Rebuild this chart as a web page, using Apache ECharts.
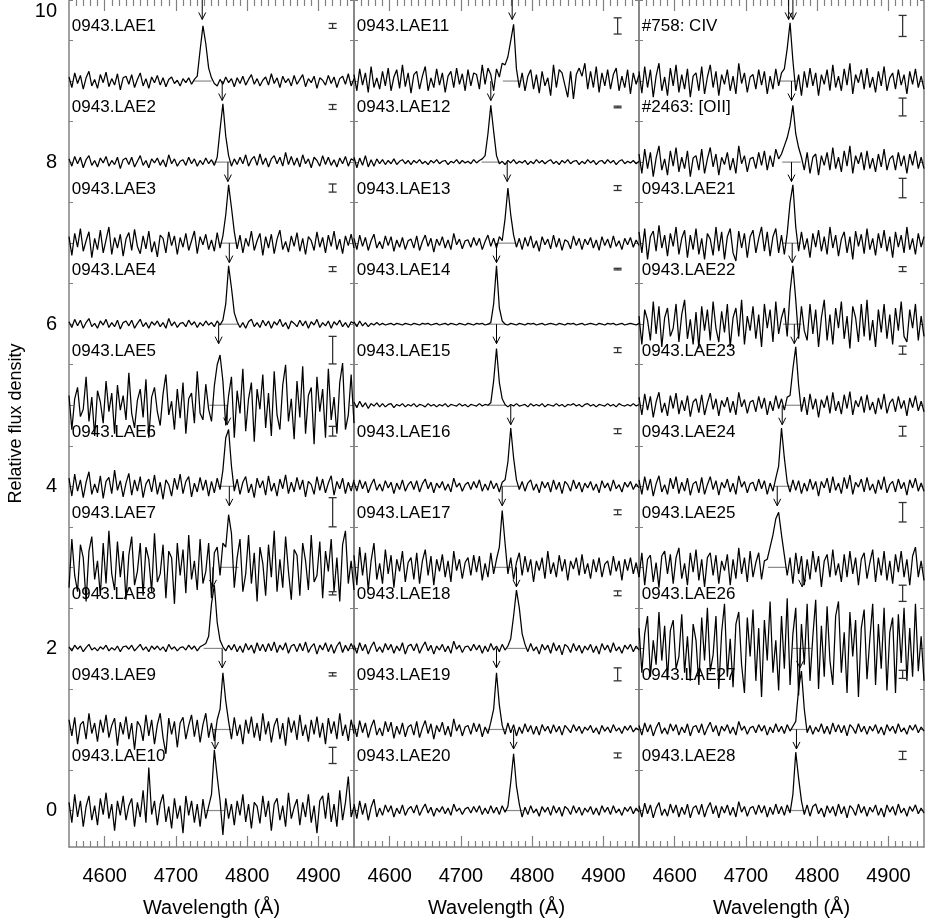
<!DOCTYPE html>
<html><head><meta charset="utf-8">
<script src="https://cdn.jsdelivr.net/npm/echarts@6/dist/echarts.min.js"></script>
<style>html,body{margin:0;padding:0;background:#fff}#c{width:926px;height:919px}</style>
</head><body><div id="c"></div>
<script>
// ---- sampling of every spectrum (Å) ----
const wlStart = 4550, wlStep = 4;
const xTickLabels = [4600, 4700, 4800, 4900];
const yTickLabels = [0, 2, 4, 6, 8, 10];

// ---- spectrum names per panel (top to bottom; offsets 9 ... 0) ----
const namesLeft = ['0943.LAE1','0943.LAE2','0943.LAE3','0943.LAE4','0943.LAE5','0943.LAE6','0943.LAE7','0943.LAE8','0943.LAE9','0943.LAE10'];
const namesMiddle = ['0943.LAE11','0943.LAE12','0943.LAE13','0943.LAE14','0943.LAE15','0943.LAE16','0943.LAE17','0943.LAE18','0943.LAE19','0943.LAE20'];
const namesRight = ['#758: CIV','#2463: [OII]','0943.LAE21','0943.LAE22','0943.LAE23','0943.LAE24','0943.LAE25','0943.LAE26','0943.LAE27','0943.LAE28'];

// ---- line (arrow) wavelengths ----
const arrowsLeft = [4737,4765,4773,4775,4760,4772,4775,4752,4765,4755];
const arrowsMiddle = [4772,4742,4765,4750,4750,4770,4758,4778,4750,4774];
const arrowsRight = [4760,4764,4764,4765,4768,4751,4744,4779,4776,4771];
const extraArrowRight = { wl: 4766, row: 0 };

// ---- error bar half heights ----
const errLeft = [0.03,0.03,0.05,0.03,0.17,0.06,0.18,0.02,0.02,0.10];
const errMiddle = [0.10,0.01,0.03,0.01,0.03,0.03,0.03,0.03,0.08,0.03];
const errRight = [0.13,0.11,0.12,0.03,0.05,0.06,0.12,0.10,0.05,0.05];

// ---- fluxes (relative, in hundredths, above each offset) ----
const lae1 = [5,-8,10,-3,7,-10,4,12,-6,2, -9,8,-2,11,-7,3,-5,9,-11,4, 6,-4,8,-8,2,10,-6,3,-9,5, -2,7,-5,4,-7,2,5,-3,1,-6, 3,-2,4,-4,2,6,38,68,46,16, 4,-3,-6,2,-4,5,-2,3,-7,4, -3,6,-5,2,8,-4,3,-6,1,5, -5,9,-3,4,-8,6,-2,3,-6,7, -4,2,8,-7,3,-2,6,-9,4,1, -5,7,-3,5,-8,3,6,-4,9,-6, 3];
const lae2 = [4,-5,7,-2,6,-7,3,8,-4,2, -6,5,-1,7,-5,2,-3,6,-8,3, 5,-3,6,-6,1,8,-4,2,-7,4, -1,5,-4,3,-6,9,-2,4,-5,1, 3,-4,6,-2,4,-5,2,-3,5,-2, 3,-4,6,40,72,32,8,-5,4,-3, 6,-2,9,-5,3,7,-4,10,-3,5, -6,4,8,-2,6,-5,12,-3,7,-4, 5,-6,9,-2,4,-7,6,2,-5,8, -3,6,-4,3,-6,5,-2,7,-5,4, 2];
const lae3 = [8,-15,12,-5,18,-10,3,14,-18,6, -8,16,-12,4,20,-14,7,-6,11,-16, 5,13,-9,17,-4,-13,9,-7,15,-11, 2,-17,10,6,-12,14,-3,9,-14,7, -5,12,-9,3,15,-13,8,-2,11,-8, 4,-10,13,-6,9,35,72,44,14,-7, 10,-12,6,-4,15,-9,3,12,-15,8, -6,11,-13,5,16,-8,2,-11,9,-4, 13,-10,6,-14,8,3,-9,14,-5,7, -12,10,-4,15,-8,5,-13,9,-3,11, -6];
const lae4 = [3,-4,6,-2,5,-5,2,7,-3,1, -5,4,-1,6,-4,2,-3,5,-6,2, 4,-2,5,-5,1,6,-3,2,-5,3, -1,4,-3,2,-5,7,-2,3,-4,1, 2,-3,5,-1,3,-4,2,-2,4,-1, 2,-3,4,-1,5,25,72,45,14,3, -4,2,-5,3,6,-3,2,-4,5,-2, 4,-5,3,-1,6,-3,2,-6,4,1, -3,5,-2,4,-5,3,-1,6,-4,2, -2,4,-5,3,-1,5,-3,2,-4,3, 1];
const lae5 = [12,-30,8,22,-14,-5,35,-20,10,-38, 18,4,-22,30,-8,15,-35,25,-6,12, -18,40,-10,-28,6,20,-15,32,-40,10, 22,-8,-25,14,38,-12,5,-30,20,-16, 28,-35,8,15,-22,42,-10,-18,26,-5, -20,24,50,62,30,-25,12,35,-40,18, -10,45,-32,8,28,-45,20,-5,38,-28, 15,-38,42,-12,-30,25,50,-20,8,-42, 30,-15,48,-35,12,22,-48,35,-8,20, -40,45,-18,10,-35,28,52,-30,-12,38, -22];
const lae6 = [10,-12,15,-6,8,-14,5,18,-10,3, -8,13,-15,6,11,-9,20,-5,7,-13, 4,16,-11,8,-6,12,-14,3,9,-7, 14,-10,5,-16,8,2,-12,10,-4,15, -9,6,12,-13,4,-7,11,-5,8,-12, 6,-8,10,-4,20,60,70,25,-6,9, -10,5,12,-8,3,-14,10,-2,7,-11, 13,-6,4,-12,9,-3,14,-9,5,-7, 11,-4,8,-13,6,2,-10,12,-5,9, -8,4,13,-11,6,-3,10,-9,5,-6, 8];
const lae7 = [-25,35,-10,-30,28,12,-42,20,38,-15, 8,-35,30,-20,45,-8,-28,32,-12,20, -40,15,38,-22,-5,30,-35,25,10,-30, 42,-18,-8,28,-38,20,12,-45,30,-10, 22,-32,40,-15,8,-28,35,-20,-5,30, -38,18,25,-10,30,25,65,42,-25,12, 35,-30,-8,40,-20,18,-42,25,5,-35, 28,-12,45,-30,10,-25,38,-5,-40,22, 15,-35,30,8,-28,40,-18,-10,32,-38, 20,-5,35,-30,12,-42,28,45,-20,8, -28];
const lae8 = [2,-3,4,-1,3,-4,1,5,-2,1, -3,2,-1,4,-3,1,-2,3,-4,2, 3,-1,4,-3,1,5,-2,2,-4,3, -1,3,-2,2,-4,5,-1,2,-3,1, 2,-2,4,-1,3,-3,2,4,6,15, 55,78,32,10,2,-3,4,-2,5,-4, 3,-5,6,-2,4,-6,7,-3,5,-4, 6,-3,8,-5,4,-2,7,-6,3,5, -4,6,-3,8,-5,2,6,-7,4,-2, 7,-4,5,-6,3,8,-5,4,-3,6, -2];
const lae9 = [12,-8,15,-18,6,10,-12,20,-5,8, -15,12,-4,18,-10,5,14,-20,9,-6, 16,-12,8,-25,10,4,-14,18,-8,12, -18,6,20,-10,-30,14,-6,10,-22,8, 15,-12,5,18,-9,12,-16,6,20,-10, 8,-14,12,25,70,35,10,-12,15,-8, 6,-18,12,-5,16,-10,8,-14,20,-6, 10,-16,5,14,-12,8,-20,15,-4,11, -13,18,-8,6,-15,12,-6,16,-10,8, -18,14,-5,10,-12,20,-8,6,-14,12, -5];
const lae10 = [10,-15,20,-8,12,-20,5,18,-12,6, -18,15,-5,22,-10,8,-25,12,-6,18, -12,6,15,-20,10,-8,25,-15,53,-5, 12,-18,8,20,-14,5,-22,15,-10,6, -28,18,-6,12,-15,8,-20,14,-10,5, 20,75,42,12,-30,15,-10,8,-18,12, -6,20,-14,8,-22,10,5,-16,18,-8, 12,-25,8,15,-12,6,-20,22,-10,4, 14,-18,10,-8,20,-15,6,-28,12,18, -10,22,-14,8,-20,25,-12,10,42,-8, 5];
const lae11 = [8,-12,15,-5,10,-14,18,-8,4,-10, 12,-6,16,-12,5,14,-9,20,-7,10, -15,8,12,-10,6,18,-12,4,-8,15, -5,10,-14,6,12,-8,16,-4,9,-12, 14,-6,10,8,-10,20,-4,16,8,-12, 15,5,22,20,30,50,70,15,-8,10, -12,6,14,-10,8,-15,12,-6,4,-18, 20,-8,14,10,-5,-20,12,-22,8,16, 6,22,-10,12,-8,18,-14,10,-6,14, -10,8,16,-12,6,-8,14,-16,10,-4, 8];
const lae12 = [6,-7,5,-4,8,-6,3,-5,4,-2, 3,-3,2,-2,4,-3,1,3,-2,2, -3,2,-1,3,-2,1,-3,2,-1,3, -2,1,2,-3,1,-1,3,-2,2,-1, 1,-2,3,-1,2,4,8,35,70,38, 8,-2,1,-3,2,-1,3,-2,1,-1, 2,-3,1,-2,3,-1,2,-2,1,3, -2,1,-3,2,-1,3,-2,1,2,-3, 1,-2,3,-1,2,-3,1,2,-2,3, -1,2,-3,1,3,-2,1,-1,2,-2, 1];
const lae13 = [6,-8,10,-4,7,-9,3,11,-6,2, -7,9,-3,8,-10,4,-5,7,-8,3, 5,-6,9,-9,2,10,-4,6,-11,5, -3,8,-6,4,-8,12,-2,5,-7,3, 4,-5,7,-3,6,-8,2,10,-4,6, -6,8,3,30,68,35,10,-5,6,-8, 7,-4,9,-6,3,-10,8,-2,5,-7, 10,-5,6,-9,4,2,-7,9,-3,6, -8,5,-2,7,-6,4,-9,8,-3,5, -6,9,-4,3,-8,6,-2,7,-5,4, -3];
const lae14 = [3,-3,4,-2,2,-3,1,-1,2,-1, 1,-1,0,1,-1,1,0,-1,1,0, -1,1,0,-1,1,0,1,-1,0,1, -1,0,1,-1,1,0,-1,1,0,-1, 1,0,-1,1,0,1,-1,0,2,25, 72,20,4,0,-1,1,0,-1,1,0, -1,1,0,1,-1,0,1,-1,0,1, 0,-1,1,0,-1,1,0,1,-1,0, 1,-1,0,1,0,-1,1,0,-1,1, 0,1,-1,0,1,-1,0,1,0,-1, 1];
const lae15 = [4,-3,5,-2,3,-4,2,-1,3,-2, 2,-2,1,2,-3,1,-1,2,-2,1, -1,2,-2,1,0,-2,2,-1,1,-2, 1,-1,2,-2,1,0,-1,2,-1,1, -2,1,0,-1,2,-1,1,0,3,30, 70,28,8,1,-2,1,-1,2,-1,0, 1,-2,2,-1,1,-1,2,-2,1,0, -1,2,-1,1,-2,1,0,2,-1,1, -2,1,2,-1,1,-2,1,0,-1,2, -1,1,-2,2,0,-1,1,-1,2,-1, 1];
const lae16 = [5,-6,8,-3,6,-8,2,9,-5,3, -6,7,-2,5,-9,4,-4,8,-6,2, 6,-4,7,-7,3,9,-3,5,-8,4, -2,6,-5,3,-7,10,-1,4,-6,2, 5,-4,6,-2,8,-6,3,-5,7,-3, 4,-7,5,8,30,72,35,8,-4,6, -6,4,8,-5,3,-8,6,-2,5,-7, 8,-4,5,-9,6,2,-6,8,-3,5, -7,4,-2,6,-5,3,-8,7,-2,4, -6,8,-3,2,-7,5,-1,6,-4,3, -2];
const lae17 = [15,-22,25,-10,18,-28,8,30,-15,5, -20,22,-8,15,-25,10,-5,20,-18,6, 12,-15,18,-20,8,22,-10,14,-22,10, -5,16,-12,8,-18,20,-4,10,-14,6, 12,-10,15,-6,14,-16,5,-12,18,-8, 10,25,70,30,-8,12,-15,6,18,-10, 14,-6,10,-18,8,-4,12,-14,20,-8, 6,-12,15,-5,10,-16,8,-2,12,-10, 16,-8,5,-14,10,-6,12,-12,4,8, -10,14,-5,8,-16,10,-4,12,-8,6, -12];
const lae18 = [4,-6,7,-3,5,-7,2,8,-4,2, -5,6,-2,5,-6,3,-3,7,-7,3, 5,-3,6,-6,2,8,-3,4,-7,3, -2,5,-4,3,-6,9,-1,4,-5,2, 3,-3,5,-2,4,-6,3,-4,6,-2, 3,-4,5,-2,3,12,40,72,50,18, 5,-4,6,-3,2,-7,5,-2,4,-6, 7,-3,4,-8,5,2,-5,6,-3,4, -6,3,-2,5,-5,3,-7,6,-2,4, -5,7,-3,2,-6,4,-1,5,-4,3, -2];
const lae19 = [6,-9,11,-4,8,-10,3,12,-7,2, -8,10,-3,9,-11,4,-6,8,-9,3, 6,-7,10,-10,2,11,-5,7,-12,5, -3,9,-7,4,-9,13,-2,6,-8,3, 5,-6,8,-3,7,-9,3,-5,9,25, 70,30,5,-6,8,-4,6,-8,3,-5, 7,-3,5,-6,4,-7,6,-2,4,-5, 6,-3,4,-7,5,1,-4,6,-2,4, -5,3,-1,5,-4,2,-6,5,-2,3, -4,6,-2,2,-5,4,-1,5,-3,2, -1];
const lae20 = [8,-10,12,-5,9,-12,4,14,-8,3, -6,7,-2,6,-8,3,-4,7,-6,2, 5,-3,7,-6,2,8,-3,4,-7,3, -2,5,-4,3,-6,8,-1,3,-5,2, 4,-3,5,-2,6,-5,3,-4,6,-3, 4,-5,6,-2,5,35,70,30,8,-8, 4,-5,6,-3,2,-7,5,-2,4,-6, 6,-3,4,-7,5,2,-5,6,-3,4, -6,3,-2,5,-5,3,-6,6,-2,4, -5,6,-3,2,-6,4,-1,5,-4,3, -2];
const civ758 = [12,-15,18,-8,14,-20,6,22,-12,5, -18,16,-6,20,-14,8,-10,15,-20,6, 10,-12,18,-16,5,20,-8,12,-18,8, -4,14,-12,6,-16,22,-3,10,-14,5, 8,-10,14,-5,12,-16,6,-10,15,-6, 10,15,40,72,25,-12,8,-18,12,-8, 16,-6,10,-18,8,-4,14,-12,20,-8, 6,-12,15,-5,22,-16,8,-2,14,-10, 16,-8,5,-14,12,-6,18,-12,4,10, -10,14,-5,8,-16,12,-4,15,-8,6, -10];
const oii2463 = [10,-14,16,-8,12,-18,5,20,-10,4, -16,14,-5,18,-12,6,-8,14,-18,5, 8,-10,16,-14,4,18,-6,10,-16,6, -3,12,-10,5,-14,20,-2,8,-12,4, 6,-8,12,-4,14,-10,8,-6,16,4, 10,20,30,45,70,35,18,6,-10,12, -14,6,10,-16,8,-4,12,-10,18,-8, 6,-12,14,-5,20,-14,8,-2,12,-10, 14,-8,5,-12,10,-6,16,-10,4,8, -10,12,-5,8,-14,10,-4,14,-8,6, -8];
const lae21 = [14,-12,18,-20,8,15,-10,22,-6,10, -16,12,-4,20,-14,6,16,-18,10,-8, 18,-14,6,-20,12,5,-15,20,-10,14, -20,8,18,-12,-22,15,-6,12,-18,8, 16,-12,6,20,-10,14,-16,8,18,-12, 10,-14,12,50,72,20,-10,14,-8,6, -18,12,-5,16,-10,8,-14,20,-6,10, -16,5,14,-12,8,-20,15,-4,11,-13, 18,-8,6,-15,12,-6,16,-10,8,-18, 14,-5,10,-12,20,-8,6,-14,12,-5, 8];
const lae22 = [10,-25,18,5,-20,28,-12,22,-28,8, 20,-15,-5,25,-22,12,30,-18,6,-25, 15,-30,22,-8,18,-20,28,-5,-22,16, -10,25,-28,8,20,-15,30,-25,10,-8, 22,-18,12,-28,25,-5,18,-22,28,-12, 8,20,-15,40,72,30,-18,22,-8,-20, 25,-12,18,-28,8,30,-20,12,-25,20, -5,28,-18,10,-30,22,8,-22,25,-15, 30,-20,5,-28,18,-10,25,-18,12,-25, 20,-8,28,-15,-22,18,-5,25,-20,10, -15];
const lae23 = [10,-12,14,-6,11,-15,4,16,-9,3, -13,12,-4,15,-11,6,-7,12,-14,4, 8,-9,13,-12,3,15,-5,8,-13,6, -2,10,-9,5,-12,16,-2,7,-10,4, 6,-8,11,-4,9,-12,5,-7,12,-4, 8,-6,10,12,45,72,25,-8,10,-12, 14,-5,8,-15,7,-3,12,-10,16,-7, 5,-11,13,-4,17,-12,6,-2,11,-9, 13,-6,4,-11,9,-5,14,-10,3,8, -8,11,-4,6,-13,9,-3,12,-7,5, -8];
const lae24 = [8,-10,12,-5,9,-12,3,13,-7,2, -10,10,-3,12,-9,5,-6,10,-11,3, 6,-8,11,-10,2,12,-4,7,-11,5, -2,9,-7,4,-10,13,-1,6,-8,3, 5,-6,9,-3,7,-10,4,-6,10,25, 72,35,5,-7,8,-5,7,-9,4,-6, 9,-4,6,-12,6,-2,10,-8,12,-5, 4,-9,11,-3,14,-10,5,-1,9,-7, 11,-5,3,-9,8,-4,12,-8,2,6, -7,9,-3,5,-11,8,-2,10,-6,4, -6];
const lae25 = [-12,18,-22,10,15,-18,6,-25,14,20, -8,16,-20,12,24,-14,5,-22,18,-6, 22,-16,10,-24,12,18,-10,15,-20,8, -4,16,-22,10,-14,24,-8,12,-18,20, -12,6,18,-15,8,10,25,40,60,68, 40,15,-10,12,-20,18,-8,14,-22,10, -15,20,-6,14,-24,8,16,-12,22,-10, 5,-18,16,-12,20,-8,12,-22,10,18, -14,6,22,-18,12,-10,20,-16,8,-20, 16,-6,20,-12,10,-22,14,25,-12,8, -16];
const lae26 = [25,-30,18,40,-35,10,-20,45,-15,28, -38,22,35,-25,-10,42,-30,15,-40,30, 10,-45,38,-15,50,-28,-8,40,-50,20, 55,-35,12,-48,30,45,-20,-55,38,-10, 48,-40,25,-60,35,-15,58,-30,10,-52, 40,-25,62,-45,18,50,-58,30,-20,55, -40,15,60,-50,28,-35,52,-15,-45,40, 58,-30,20,-55,45,-10,35,-60,25,48, -38,12,55,-45,30,-25,50,-52,20,38, -55,42,-18,50,-40,25,-35,55,-28,15, -40];
const lae27 = [5,-7,8,-3,6,-8,2,9,-5,2, -6,7,-2,6,-7,3,-4,7,-8,3, 5,-4,7,-7,2,9,-3,5,-8,4, -2,6,-5,3,-7,10,-1,4,-6,2, 4,-4,6,-2,5,-7,3,-4,7,-3, 4,-5,6,-2,4,10,50,72,25,-4, 5,-6,3,-3,7,-5,4,-6,8,-3, 6,-4,5,-8,6,2,-5,7,-3,4, -6,4,-2,6,-5,3,-7,6,-2,4, -5,7,-3,2,-6,5,-1,6,-4,3, -2];
const lae28 = [6,-8,9,-4,7,-9,3,10,-6,2, -7,8,-3,7,-8,4,-5,8,-9,3, 6,-5,8,-8,3,10,-4,6,-9,5, -3,7,-6,4,-8,11,-2,5,-7,3, 5,-5,7,-3,6,-8,4,-5,8,-4, 5,-6,7,-3,20,72,40,12,-5,7, -7,5,8,-4,3,-8,6,-3,5,-7, 8,-4,5,-9,6,2,-6,8,-3,5, -7,4,-2,7,-6,3,-8,7,-2,5, -6,8,-3,3,-7,5,-1,7,-4,3, -3];

const fluxLeft = [lae1,lae2,lae3,lae4,lae5,lae6,lae7,lae8,lae9,lae10];
const fluxMiddle = [lae11,lae12,lae13,lae14,lae15,lae16,lae17,lae18,lae19,lae20];
const fluxRight = [civ758,oii2463,lae21,lae22,lae23,lae24,lae25,lae26,lae27,lae28];

// ---------------- chart ----------------
const panels = [
  { names: namesLeft, arrows: arrowsLeft, err: errLeft, flux: fluxLeft },
  { names: namesMiddle, arrows: arrowsMiddle, err: errMiddle, flux: fluxMiddle },
  { names: namesRight, arrows: arrowsRight, err: errRight, flux: fluxRight }
];
const FONT = '"Liberation Sans", Arial, Helvetica, sans-serif';
const AX = '#808080';
const XMIN = 4550, XMAX = 4950, YMIN = -0.45, YMAX = 10;
const gridLefts = [69, 354, 639];
const minorX = []; for (let v = 4560; v < 4950; v += 10) if (v % 100 !== 0) minorX.push(v);
const halfY = []; for (let v = 0; v <= 10; v += 0.5) halfY.push(v);

const grid = [], xAxis = [], yAxis = [], series = [];
panels.forEach((p, g) => {
  grid.push({ left: gridLefts[g], top: 0, width: 285, height: 847, containLabel: false, outerBoundsMode: 'none' });
  const base = { type: 'value', gridIndex: g, min: XMIN, max: XMAX, splitLine: { show: false } };
  xAxis.push(Object.assign({}, base, {
    position: 'bottom',
    axisLine: { onZero: false, lineStyle: { color: AX, width: 1.5 } },
    axisTick: { inside: true, length: 11, customValues: xTickLabels, lineStyle: { color: AX, width: 1.2 } },
    axisLabel: { customValues: xTickLabels, fontSize: 20, color: '#000', fontFamily: FONT, margin: 19, formatter: v => String(v) },
    name: 'Wavelength (Å)', nameLocation: 'middle', nameGap: 51,
    nameTextStyle: { fontSize: 20, color: '#000', fontFamily: FONT }
  }));
  xAxis.push(Object.assign({}, base, {
    position: 'bottom', axisLine: { show: false, onZero: false },
    axisTick: { inside: true, length: 6, customValues: minorX, lineStyle: { color: AX, width: 1.2 } },
    axisLabel: { show: false }
  }));
  xAxis.push(Object.assign({}, base, {
    position: 'top', axisLine: { show: false, onZero: false },
    axisTick: { inside: true, length: 11, customValues: xTickLabels, lineStyle: { color: AX, width: 1.2 } },
    axisLabel: { show: false }
  }));
  xAxis.push(Object.assign({}, base, {
    position: 'top', axisLine: { show: false, onZero: false },
    axisTick: { inside: true, length: 6, customValues: minorX, lineStyle: { color: AX, width: 1.2 } },
    axisLabel: { show: false }
  }));
  const ybase = { type: 'value', gridIndex: g, min: YMIN, max: YMAX, splitLine: { show: false } };
  yAxis.push(Object.assign({}, ybase, {
    position: 'left',
    axisLine: { onZero: false, lineStyle: { color: AX, width: 1.5 } },
    axisTick: { inside: true, length: 4, customValues: halfY, lineStyle: { color: AX } },
    axisLabel: g === 0 ? {
      customValues: yTickLabels, fontSize: 20, color: '#000', fontFamily: FONT, margin: 12,
      formatter: v => v === 10 ? '{t|10}' : String(v),
      rich: { t: { fontSize: 20, fontFamily: FONT, color: '#000', padding: [22, 0, 0, 0] } }
    } : { show: false },
    name: g === 0 ? 'Relative flux density' : '', nameLocation: 'middle', nameGap: 44, nameRotate: 90,
    nameTextStyle: { fontSize: 18, color: '#000', fontFamily: FONT }
  }));
  yAxis.push(Object.assign({}, ybase, {
    position: 'right',
    axisLine: { onZero: false, lineStyle: { color: AX, width: 1.5 } },
    axisTick: { inside: true, length: 4, customValues: halfY, lineStyle: { color: AX } },
    axisLabel: { show: false }
  }));

  const xi = 4 * g, yi = 2 * g;
  p.flux.forEach((arr, k) => {
    const off = 9 - k;
    series.push({
      type: 'line', xAxisIndex: xi, yAxisIndex: yi, showSymbol: false, symbol: 'none',
      animation: false, silent: true, z: 3,
      lineStyle: { color: '#000', width: 1.25 },
      data: arr.map((v, i) => [wlStart + i * wlStep, off + v / 100])
    });
  });

  // baseline segments under the lines + arrows
  const arrowData = p.arrows.map((w, k) => [w, 9 - k]);
  if (g === 2) arrowData.push([extraArrowRight.wl, 9 - extraArrowRight.row]);
  series.push({
    type: 'custom', xAxisIndex: xi, yAxisIndex: yi, animation: false, silent: true, z: 2,
    data: p.arrows.map((w, k) => [w, 9 - k]),
    renderItem: (params, api) => {
      const a = api.coord([api.value(0) - 13, api.value(1)]);
      const b = api.coord([api.value(0) + 13, api.value(1)]);
      return { type: 'line', shape: { x1: a[0], y1: a[1], x2: b[0], y2: b[1] }, style: { stroke: '#888', lineWidth: 1.2 } };
    }
  });
  series.push({
    type: 'custom', xAxisIndex: xi, yAxisIndex: yi, animation: false, silent: true, z: 4,
    data: arrowData,
    renderItem: (params, api) => {
      const t = api.coord([api.value(0), api.value(1) + 1.0]);
      const h = api.coord([api.value(0), api.value(1) + 0.76]);
      return { type: 'group', children: [
        { type: 'line', shape: { x1: t[0], y1: t[1], x2: h[0], y2: h[1] }, style: { stroke: '#000', lineWidth: 1 } },
        { type: 'polyline', shape: { points: [[h[0] - 3.5, h[1] - 7], [h[0], h[1]], [h[0] + 3.5, h[1] - 7]] }, style: { stroke: '#000', fill: null, lineWidth: 1 } }
      ] };
    }
  });
  // error bars
  series.push({
    type: 'custom', xAxisIndex: xi, yAxisIndex: yi, animation: false, silent: true, z: 4,
    data: p.err.map((e, k) => [4920, 9 - k + 0.68, e]),
    renderItem: (params, api) => {
      const e = api.value(2);
      const a = api.coord([api.value(0), api.value(1) + e]);
      const b = api.coord([api.value(0), api.value(1) - e]);
      return { type: 'group', children: [
        { type: 'line', shape: { x1: a[0], y1: a[1], x2: b[0], y2: b[1] }, style: { stroke: '#333', lineWidth: 1.3 } },
        { type: 'line', shape: { x1: a[0] - 4, y1: a[1], x2: a[0] + 4, y2: a[1] }, style: { stroke: '#333', lineWidth: 1.3 } },
        { type: 'line', shape: { x1: b[0] - 4, y1: b[1], x2: b[0] + 4, y2: b[1] }, style: { stroke: '#333', lineWidth: 1.3 } }
      ] };
    }
  });
  // names
  series.push({
    type: 'custom', xAxisIndex: xi, yAxisIndex: yi, animation: false, silent: true, z: 5,
    data: p.names.map((n, k) => [4554, 9 - k + 0.67]),
    renderItem: (params, api) => {
      const c = api.coord([api.value(0), api.value(1)]);
      return { type: 'text', x: c[0], y: c[1], style: { text: p.names[params.dataIndex], fill: '#000', font: '17px ' + FONT, verticalAlign: 'middle', align: 'left' } };
    }
  });
});

const chart = echarts.init(document.getElementById('c'), null, { renderer: 'canvas' });
chart.setOption({ backgroundColor: '#fff', animation: false, grid, xAxis, yAxis, series });
</script></body></html>
